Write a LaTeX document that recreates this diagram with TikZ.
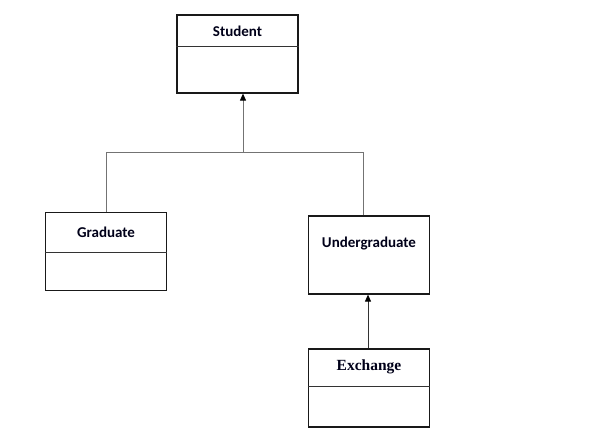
\documentclass[tikz,border=0pt]{standalone}
\usepackage{fontspec}
\setmainfont{Carlito}
\newfontfamily\timesfont{Liberation Serif}
\usetikzlibrary{arrows.meta,calc}
\begin{document}
\begin{tikzpicture}[x=1pt,y=-1pt,
  classbox/.style={draw=black!90,line width=1.2pt,inner sep=0pt,minimum width=121pt,minimum height=78pt},
  divider/.style={draw=black!80,line width=0.9pt},
  conn/.style={draw=black!55,line width=0.9pt},
  inh/.style={conn,-{Triangle[length=7pt,width=6pt,color=black]}},
  lbl/.style={font=\bfseries\fontsize{15}{18}\selectfont,inner sep=0pt,text=black!90!blue}]
\useasboundingbox (0,0) rectangle (616,445);
\fill[white] (0,0) rectangle (616,445);
% boxes
\node[classbox] (student) at (237.5,54) {};
\node[classbox] (graduate) at (106,251.5) {};
\node[classbox] (under) at (369,255) {};
\node[classbox] (exchange) at (369,388) {};
% dividers
\draw[divider] (student.west |- 0,46) -- (student.east |- 0,46);
\draw[divider] (graduate.west |- 0,252) -- (graduate.east |- 0,252);
\draw[divider] (exchange.west |- 0,386) -- (exchange.east |- 0,386);
% labels
\node[lbl] (tstudent) at (237.5,31) {Student};
\node[lbl] (tgraduate) at (106,232) {Graduate};
\node[lbl] (tunder) at (369,244) {Undergraduate};
\node[lbl,font=\timesfont\bfseries\fontsize{15.5}{18}\selectfont] (texchange) at (369,367) {Exchange};
% connectors
\coordinate (j) at (243,152);
\draw[conn] (graduate.north) |- (j);
\draw[conn] ([xshift=-6pt]under.north) |- (j);
\draw[inh] (j) -- (j |- student.south);
\draw[inh,draw=black!80] ([xshift=-1pt]exchange.north) -- ([xshift=-1pt]under.south);
\end{tikzpicture}
\end{document}
